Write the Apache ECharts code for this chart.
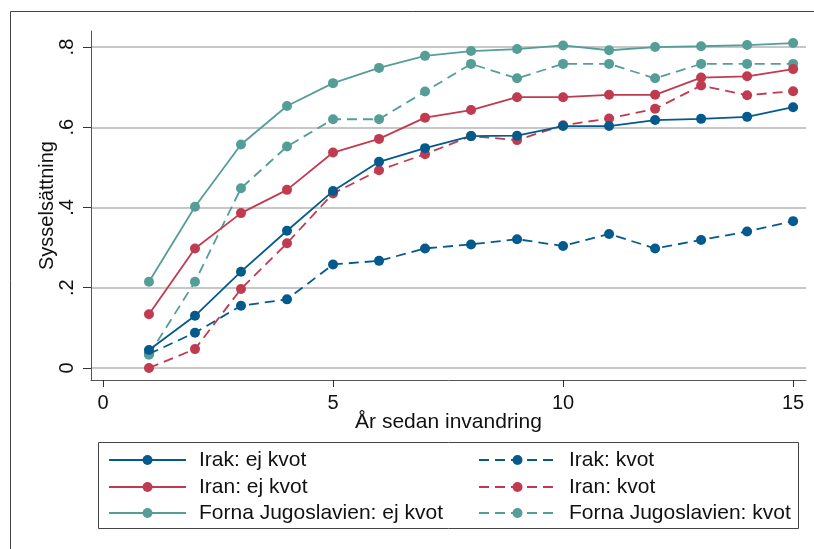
<!DOCTYPE html>
<html>
<head>
<meta charset="utf-8">
<script src="https://cdn.jsdelivr.net/npm/echarts@6/dist/echarts.min.js"></script>
<style>
html,body{margin:0;padding:0;background:#fff;}
#c{width:814px;height:549px;}
</style>
</head>
<body>
<div id="c"></div>
<script>
const years = [1,2,3,4,5,6,7,8,9,10,11,12,13,14,15];
const irakEj   = [0.045,0.130,0.240,0.342,0.441,0.514,0.548,0.578,0.579,0.603,0.603,0.618,0.621,0.626,0.650];
const irakKvot = [0.035,0.088,0.155,0.171,0.258,0.267,0.298,0.308,0.321,0.304,0.334,0.298,0.319,0.340,0.366];
const iranEj   = [0.134,0.298,0.386,0.444,0.537,0.571,0.624,0.643,0.675,0.675,0.681,0.681,0.724,0.727,0.745];
const iranKvot = [0.000,0.047,0.197,0.311,0.435,0.493,0.533,0.578,0.568,0.605,0.622,0.646,0.704,0.680,0.690];
const jugoEj   = [0.215,0.402,0.557,0.653,0.710,0.748,0.778,0.790,0.795,0.804,0.792,0.800,0.802,0.805,0.810];
const jugoKvot = [0.033,0.215,0.448,0.552,0.620,0.620,0.689,0.758,0.722,0.758,0.758,0.722,0.758,0.758,0.758];
const yTicks = [0,0.2,0.4,0.6,0.8];
const yTickLabels = ['0','.2','.4','.6','.8'];
const xTicks = [0,5,10,15];
const names = ['Irak: ej kvot','Irak: kvot','Iran: ej kvot','Iran: kvot','Forna Jugoslavien: ej kvot','Forna Jugoslavien: kvot'];

const BLUE='#045a8d', RED='#c13b50', TEAL='#559e98';
const FONT='Liberation Sans, Arial, sans-serif';
const pair = arr => years.map((y,i)=>[y,arr[i]]);
function mk(name, arr, color, dashed){
  return {
    name, type:'line', data:pair(arr), symbol:'circle', symbolSize:10,
    itemStyle:{color}, lineStyle:{color, width:1.8, type: dashed ? [10,6] : 'solid'},
    emphasis:{disabled:true}, animation:false, z: dashed?2:3
  };
}
const series = [
  mk(names[0], irakEj, BLUE, false),
  mk(names[1], irakKvot, BLUE, true),
  mk(names[2], iranEj, RED, false),
  mk(names[3], iranKvot, RED, true),
  mk(names[4], jugoEj, TEAL, false),
  mk(names[5], jugoKvot, TEAL, true)
];
const legendPos = [[108,449],[478,449],[108,476],[478,476],[108,502],[478,502]];
const legends = names.map((n,i)=>({
  data:[n], left:legendPos[i][0], top:legendPos[i][1], padding:0,
  itemWidth:77, itemHeight:12.5, itemGap:0, selectedMode:false,
  textStyle:{fontFamily:FONT, fontSize:21, color:'#111', lineHeight:22, padding:[0,0,0,8]}
}));

const chart = echarts.init(document.getElementById('c'), null, {renderer:'canvas'});
chart.setOption({
  backgroundColor:'#fff',
  animation:false,
  grid:{left:91, top:31, right:8, bottom:169, containLabel:false},
  xAxis:{
    type:'value', min:-0.26, max:15.28,
    name:'År sedan invandring', nameLocation:'middle', nameGap:32, nameMoveOverlap:false,
    nameTextStyle:{fontFamily:FONT, fontSize:21, color:'#111'},
    axisLine:{onZero:false, lineStyle:{color:'#555', width:1}},
    axisTick:{show:true, length:7, customValues:xTicks, lineStyle:{color:'#333'}},
    axisLabel:{customValues:xTicks, fontFamily:FONT, fontSize:20, color:'#111', margin:13},
    splitLine:{show:false}
  },
  yAxis:{
    type:'value', min:-0.03, max:0.84,
    name:'Sysselsättning', nameLocation:'middle', nameGap:34, nameRotate:90, nameMoveOverlap:false,
    nameTextStyle:{fontFamily:FONT, fontSize:20, color:'#111'},
    axisLine:{show:true, onZero:false, lineStyle:{color:'#555', width:1}},
    axisTick:{show:true, length:8, customValues:yTicks, lineStyle:{color:'#333'}},
    axisLabel:{customValues:yTicks, rotate:90, fontFamily:FONT, fontSize:20, color:'#111', margin:14,
      formatter:v=>{const i=yTicks.findIndex(t=>Math.abs(t-v)<1e-6);return i>=0?yTickLabels[i]:'';}},
    splitLine:{show:true, lineStyle:{color:'#b4b4b4', width:1.6}}
  },
  legend: legends,
  series,
  graphic:[
    {type:'polyline', shape:{points:[[10.5,549],[10.5,11.5],[814,11.5]]}, style:{stroke:'#444', lineWidth:1, fill:null}, silent:true},
    {type:'rect', shape:{x:98.5,y:442.5,width:700,height:86}, style:{stroke:'#444', lineWidth:1, fill:null}, silent:true, z:-1}
  ]
});
</script>
</body>
</html>
